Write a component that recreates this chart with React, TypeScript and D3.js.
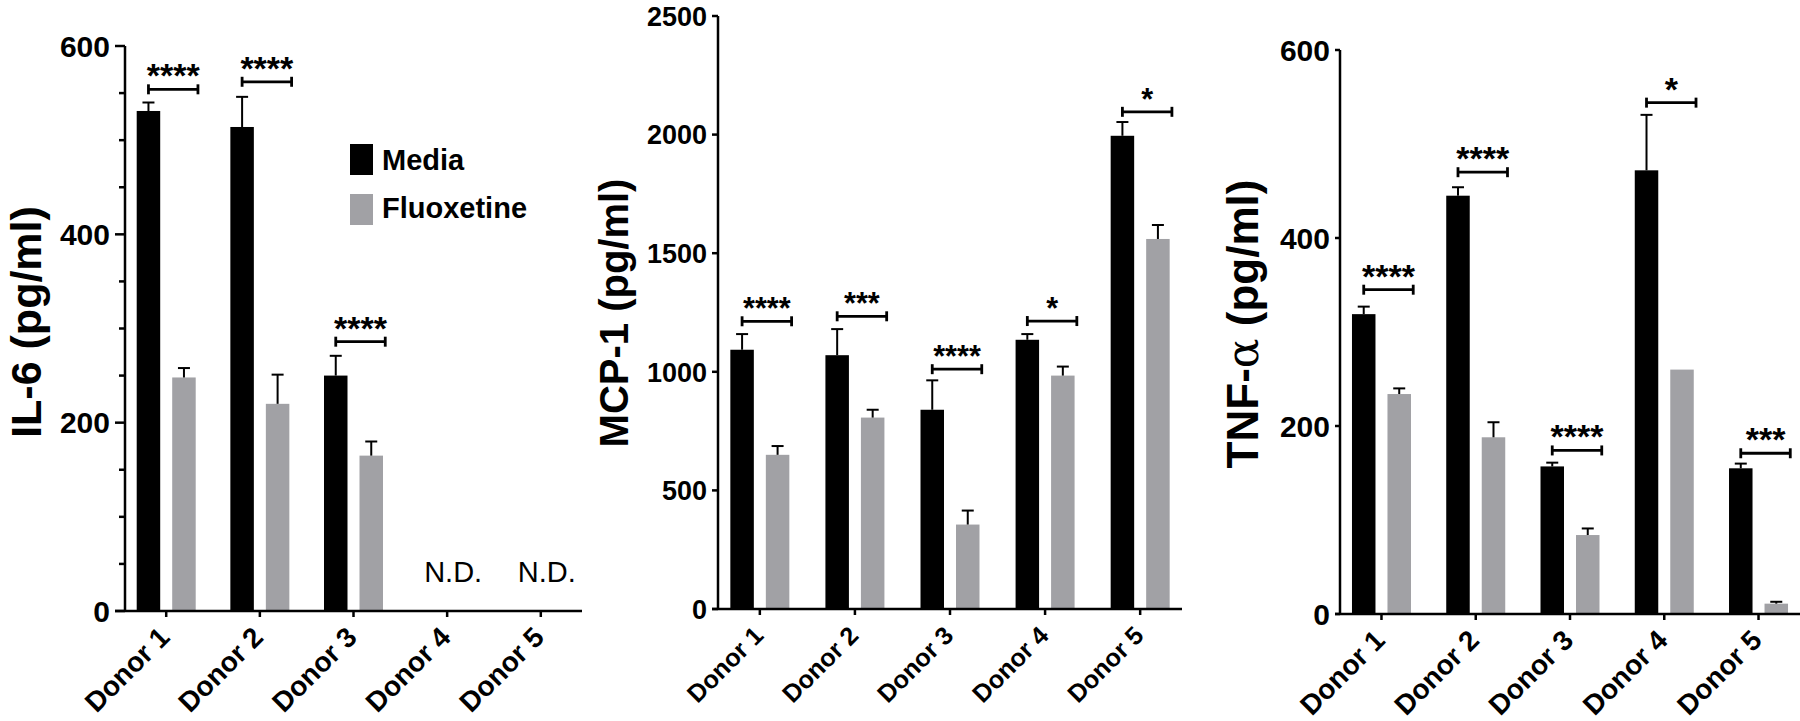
import React from 'react';
import * as d3 from 'd3';

const donors = ['Donor 1', 'Donor 2', 'Donor 3', 'Donor 4', 'Donor 5'];
const groups = ['Media', 'Fluoxetine'];
const colors = ['#000000', '#a1a1a5'];

// IL-6 (pg/ml); null = N.D.
const il6Media = [531, 514, 250, null, null];
const il6MediaSem = [9, 32, 21, null, null];
const il6Fluox = [248, 220, 165, null, null];
const il6FluoxSem = [10, 31, 15, null, null];
const il6Stars = ['****', '****', '****', null, null];
const il6StarsAt = [554, 562, 286, null, null];

// MCP-1 (pg/ml)
const mcpMedia = [1093, 1070, 840, 1135, 1995];
const mcpMediaSem = [66, 110, 124, 24, 58];
const mcpFluox = [650, 807, 356, 984, 1560];
const mcpFluoxSem = [37, 33, 59, 38, 59];
const mcpStars = ['****', '***', '****', '*', '*'];
const mcpStarsAt = [1213, 1234, 1011, 1214, 2096];

// TNF-alpha (pg/ml)
const tnfMedia = [319, 445, 157, 472, 155];
const tnfMediaSem = [8, 9, 4, 59, 5];
const tnfFluox = [234, 188, 84, 260, 11];
const tnfFluoxSem = [6, 16, 7, 0, 2];
const tnfStars = ['****', '****', '****', '*', '***'];
const tnfStarsAt = [345, 470, 174, 544, 171];

const FONT = '"Liberation Sans", Arial, Helvetica, sans-serif';

const panels = [
  {
    x0: 125, x1: 582, yTop: 46, y0: 611, max: 600, ticks: [0, 200, 400, 600], minor: 50,
    tickLen: 10, fs: 1, label: 'IL-6 (pg/ml)', labelX: 41, labelY: 322, labelSize: 43,
    media: il6Media, mediaSem: il6MediaSem, fluox: il6Fluox, fluoxSem: il6FluoxSem,
    stars: il6Stars, starsAt: il6StarsAt, legend: true,
  },
  {
    x0: 718, x1: 1182, yTop: 16, y0: 609, max: 2500, ticks: [0, 500, 1000, 1500, 2000, 2500], minor: 0,
    tickLen: 6, fs: 0.9, label: 'MCP-1 (pg/ml)', labelX: 628, labelY: 313, labelSize: 40,
    media: mcpMedia, mediaSem: mcpMediaSem, fluox: mcpFluox, fluoxSem: mcpFluoxSem,
    stars: mcpStars, starsAt: mcpStarsAt, legend: false,
  },
  {
    x0: 1340, x1: 1800, yTop: 50, y0: 614, max: 600, ticks: [0, 200, 400, 600], minor: 0,
    tickLen: 5, fs: 1, label: 'TNF-', labelX: 1258, labelY: 324, labelSize: 44,
    media: tnfMedia, mediaSem: tnfMediaSem, fluox: tnfFluox, fluoxSem: tnfFluoxSem,
    stars: tnfStars, starsAt: tnfStarsAt, legend: false,
  },
];

const barW = 23.5;
const gap = 12;

function Panel({ p }) {
  const x = d3.scalePoint().domain(donors).range([p.x0, p.x1]).padding(0.44);
  const y = d3.scaleLinear().domain([0, p.max]).range([p.y0, p.yTop]);
  const offs = [-(gap / 2 + barW), gap / 2];
  const series = [
    { vals: p.media, sem: p.mediaSem },
    { vals: p.fluox, sem: p.fluoxSem },
  ];
  const minorTicks = p.minor ? d3.range(0, p.max + 1, p.minor).filter(v => !p.ticks.includes(v)) : [];

  return (
    <g>
      {series.map((s, si) =>
        donors.map((d, i) => {
          const v = s.vals[i];
          if (v == null) return null;
          const bx = x(d) + offs[si];
          const e = s.sem[i];
          const cx = bx + barW / 2;
          return (
            <g key={`${si}-${i}`}>
              <rect x={bx} y={y(v)} width={barW} height={y(0) - y(v)} fill={colors[si]} />
              {e > 0 && (
                <g stroke="#000" strokeWidth={2}>
                  <line x1={cx} x2={cx} y1={y(v)} y2={y(v + e)} />
                  <line x1={cx - 6} x2={cx + 6} y1={y(v + e)} y2={y(v + e)} />
                </g>
              )}
            </g>
          );
        })
      )}

      {/* significance brackets */}
      {donors.map((d, i) => {
        const st = p.stars[i];
        if (!st) return null;
        const xa = x(d) + offs[0] + barW / 2;
        const xb = x(d) + offs[1] + barW / 2 + 14;
        const by = y(p.starsAt[i]);
        return (
          <g key={`sig-${i}`}>
            <g stroke="#000" strokeWidth={2.8}>
              <line x1={xa} x2={xb} y1={by} y2={by} />
              <line x1={xa} x2={xa} y1={by - 5} y2={by + 5} />
              <line x1={xb} x2={xb} y1={by - 5} y2={by + 5} />
            </g>
            <text x={(xa + xb) / 2} y={by - 2} textAnchor="middle" fontFamily={FONT}
              fontWeight="bold" fontSize={34 * p.fs}>{st}</text>
          </g>
        );
      })}

      {/* N.D. labels */}
      {donors.map((d, i) => p.media[i] == null ? (
        <text key={`nd-${i}`} x={x(d) + 6} y={p.y0 - 29} textAnchor="middle" fontFamily={FONT}
          fontSize={29}>N.D.</text>
      ) : null)}

      {/* y axis */}
      <line x1={p.x0} x2={p.x0} y1={p.y0} y2={p.yTop} stroke="#000" strokeWidth={2.5} />
      {p.ticks.map(t => (
        <g key={`t-${t}`}>
          <line x1={p.x0 - p.tickLen} x2={p.x0} y1={y(t)} y2={y(t)} stroke="#000" strokeWidth={2.5} />
          <text x={p.x0 - p.tickLen - 5} y={y(t)} dy="0.36em" textAnchor="end" fontFamily={FONT}
            fontWeight="bold" fontSize={30 * p.fs}>{t}</text>
        </g>
      ))}
      {minorTicks.map(t => (
        <line key={`m-${t}`} x1={p.x0 - 6} x2={p.x0} y1={y(t)} y2={y(t)} stroke="#000" strokeWidth={2.5} />
      ))}

      {/* x axis */}
      <line x1={p.x0 - p.tickLen} x2={p.x1} y1={p.y0} y2={p.y0} stroke="#000" strokeWidth={2.5} />
      {donors.map(d => (
        <g key={`x-${d}`}>
          <line x1={x(d)} x2={x(d)} y1={p.y0} y2={p.y0 + 6} stroke="#000" strokeWidth={2.5} />
          <text transform={`translate(${x(d) + 5},${p.y0 + 28}) rotate(-45)`} textAnchor="end"
            fontFamily={FONT} fontWeight="bold" fontSize={28 * p.fs}>{d}</text>
        </g>
      ))}

      {/* y label */}
      <text transform={`translate(${p.labelX},${p.labelY}) rotate(-90)`} textAnchor="middle"
        fontFamily={FONT} fontWeight="bold" fontSize={p.labelSize}>
        {p.label === 'TNF-' ? (
          <>
            TNF-<tspan fontFamily='"DejaVu Serif", serif' fontWeight="normal">α</tspan> (pg/ml)
          </>
        ) : p.label}
      </text>

      {p.legend && groups.map((g, gi) => (
        <g key={`lg-${g}`}>
          <rect x={350} y={144 + gi * 50} width={23} height={31} fill={colors[gi]} />
          <text x={382} y={170 + gi * 48} fontFamily={FONT} fontWeight="bold" fontSize={29}>{g}</text>
        </g>
      ))}
    </g>
  );
}

export default function App() {
  return (
    <svg width={1800} height={721} viewBox="0 0 1800 721"
      style={{ position: 'absolute', left: 0, top: 0, background: '#fff' }}>
      <rect width={1800} height={721} fill="#fff" />
      {panels.map((p, i) => <Panel key={i} p={p} />)}
    </svg>
  );
}
